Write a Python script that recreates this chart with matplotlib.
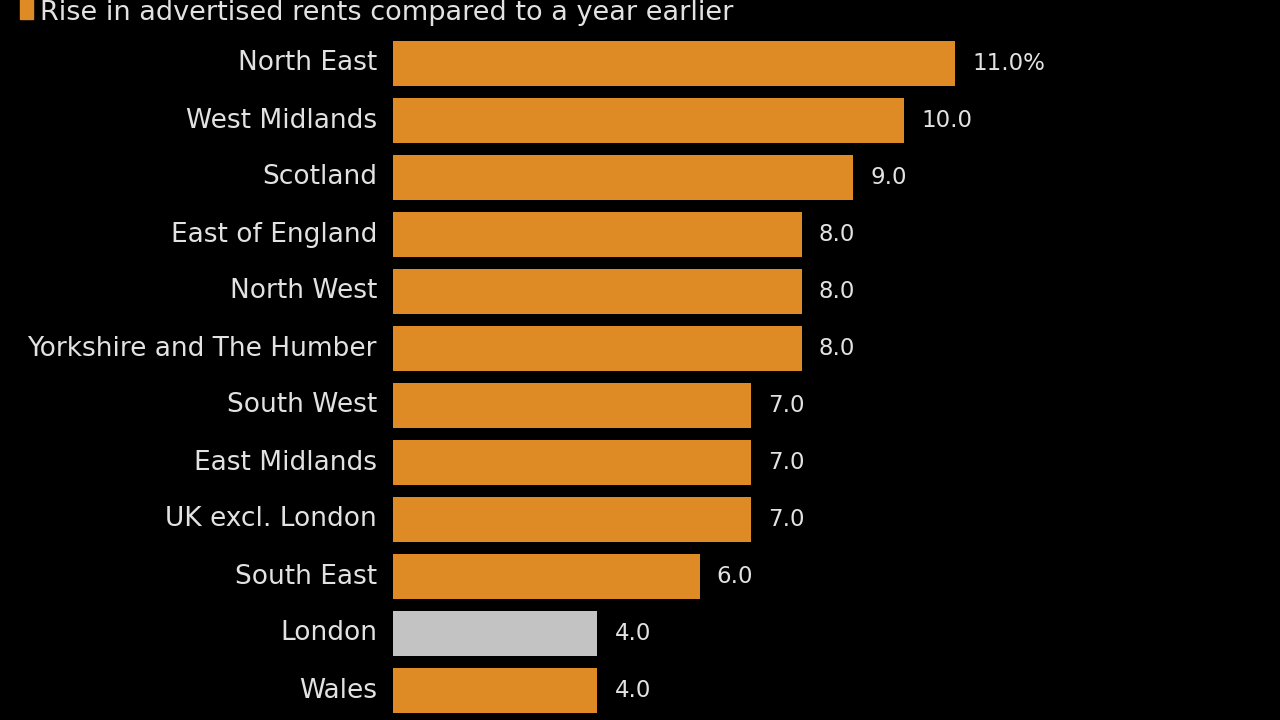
import matplotlib
matplotlib.use("Agg")
import matplotlib.pyplot as plt
from matplotlib.patches import Rectangle

categories = ["North East", "West Midlands", "Scotland", "East of England", "North West",
              "Yorkshire and The Humber", "South West", "East Midlands", "UK excl. London",
              "South East", "London", "Wales"]
values = [11.0, 10.0, 9.0, 8.0, 8.0, 8.0, 7.0, 7.0, 7.0, 6.0, 4.0, 4.0]
highlight = "London"
legend_label = "Rise in advertised rents compared to a year earlier"

ORANGE = "#DE8B26"
GRAY = "#C3C3C3"
TEXT = "#E2E2E2"
BG = "#000000"

plt.rcParams['font.family'] = ['DejaVu Sans']

W, H = 1280, 720
fig = plt.figure(figsize=(W / 100, H / 100), dpi=100, facecolor=BG)
ax = fig.add_axes([393 / W, 1 - 719 / H, 869 / W, 684 / H], facecolor=BG)

ypos = list(range(len(categories)))
colors = [GRAY if c == highlight else ORANGE for c in categories]
ax.barh(ypos, values, height=0.79, color=colors, align='center')
ax.set_xlim(0, 17)
ax.set_ylim(len(categories) - 0.5, -0.5)

for i, v in enumerate(values):
    lbl = f"{v:.1f}%" if i == 0 else f"{v:.1f}"
    ax.annotate(lbl, xy=(v, i), xytext=(17, 0), textcoords='offset pixels',
                va='center', ha='left', color=TEXT, fontsize=16.5)

ax.set_yticks(ypos)
ax.set_yticklabels(categories, color=TEXT, fontsize=19, va='center')
ax.tick_params(axis='y', length=0, pad=11.5)
ax.set_xticks([])
for s in ax.spines.values():
    s.set_visible(False)

# legend at top
fig.patches.append(Rectangle((20 / W, 1 - 19 / H), 13 / W, 21 / H, transform=fig.transFigure,
                             color=ORANGE, figure=fig))
fig.text(40 / W, 1 - 20 / H, legend_label, color=TEXT, fontsize=19.5, va='baseline', ha='left')

fig.savefig("out.png", dpi=100, facecolor=BG)
